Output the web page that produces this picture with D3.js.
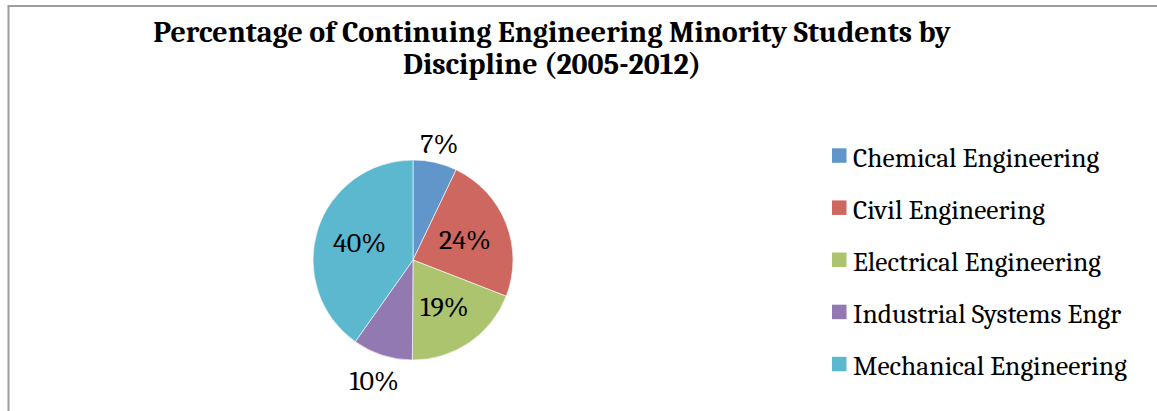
<!DOCTYPE html>
<html>
<head>
<meta charset="utf-8">
<script src="https://cdn.jsdelivr.net/npm/d3@7"></script>
<style>
  html, body { margin: 0; padding: 0; background: #fff; }
  svg { display: block; }
</style>
</head>
<body>
<svg id="chart" width="1157" height="411"></svg>
<script>
const categories = ["Chemical Engineering", "Civil Engineering", "Electrical Engineering", "Industrial Systems Engr", "Mechanical Engineering"];
const values = [7.1, 23.8, 19.2, 9.7, 40.2];
const colors = ["#6096CA", "#CD6760", "#ABC46D", "#9379B1", "#5BB8CF"];
const titleLines = ["Percentage of Continuing Engineering Minority Students by", "Discipline (2005-2012)"];

const W = 1157, H = 411;
const svg = d3.select("#chart");
const serif = "Cambria, Caladea, 'Liberation Serif', 'DejaVu Serif', serif";

// frame
svg.append("line").attr("x1", 8).attr("x2", W).attr("y1", 6).attr("y2", 6)
  .attr("stroke", "#9c9c9c").attr("stroke-width", 2);
svg.append("line").attr("x1", 8.5).attr("x2", 8.5).attr("y1", 5).attr("y2", H)
  .attr("stroke", "#9c9c9c").attr("stroke-width", 2);

// title
svg.append("text")
  .attr("x", 552).attr("y", 41.7)
  .attr("text-anchor", "middle")
  .attr("font-family", serif).attr("font-weight", "bold").attr("font-size", 30)
  .attr("fill", "#000")
  .selectAll("tspan").data(titleLines).join("tspan")
  .attr("x", 552).attr("dy", (d, i) => i === 0 ? 0 : 32.6)
  .text(d => d);

// pie
const cx = 413, cy = 260, R = 100;
const pie = d3.pie().sort(null).value(d => d.v);
const data = categories.map((c, i) => ({ c, v: values[i], col: colors[i] }));
const arcs = pie(data);
const arc = d3.arc().innerRadius(0).outerRadius(R);
const g = svg.append("g").attr("transform", `translate(${cx},${cy})`);
g.selectAll("path").data(arcs).join("path")
  .attr("d", arc)
  .attr("fill", d => d.data.col)
  .attr("stroke", "#fff").attr("stroke-width", 0.6);

g.selectAll("text.lbl").data(arcs).join("text")
  .attr("class", "lbl")
  .attr("transform", d => {
    const a = (d.startAngle + d.endAngle) / 2;
    const r = d.data.v < 12 ? R + 19 + 8 * (1 - Math.cos(a)) / 2 : 56;
    return `translate(${Math.sin(a) * r},${-Math.cos(a) * r})`;
  })
  .attr("text-anchor", "middle")
  .attr("dy", "0.33em")
  .attr("font-family", serif).attr("font-size", 28)
  .attr("fill", "#000")
  .text(d => Math.round(d.data.v) + "%");

// legend
const legY = d3.scalePoint().domain(categories).range([155.5, 364]);
const leg = svg.append("g");
const items = leg.selectAll("g").data(data).join("g")
  .attr("transform", d => `translate(832,${legY(d.c)})`);
items.append("rect").attr("x", 0).attr("y", -7.2).attr("width", 14.5).attr("height", 14.5)
  .attr("fill", d => d.col);
items.append("text").attr("x", 21).attr("y", 0).attr("dy", "0.4em")
  .attr("font-family", serif).attr("font-size", 27.5).attr("fill", "#000")
  .text(d => d.c);
</script>
</body>
</html>
